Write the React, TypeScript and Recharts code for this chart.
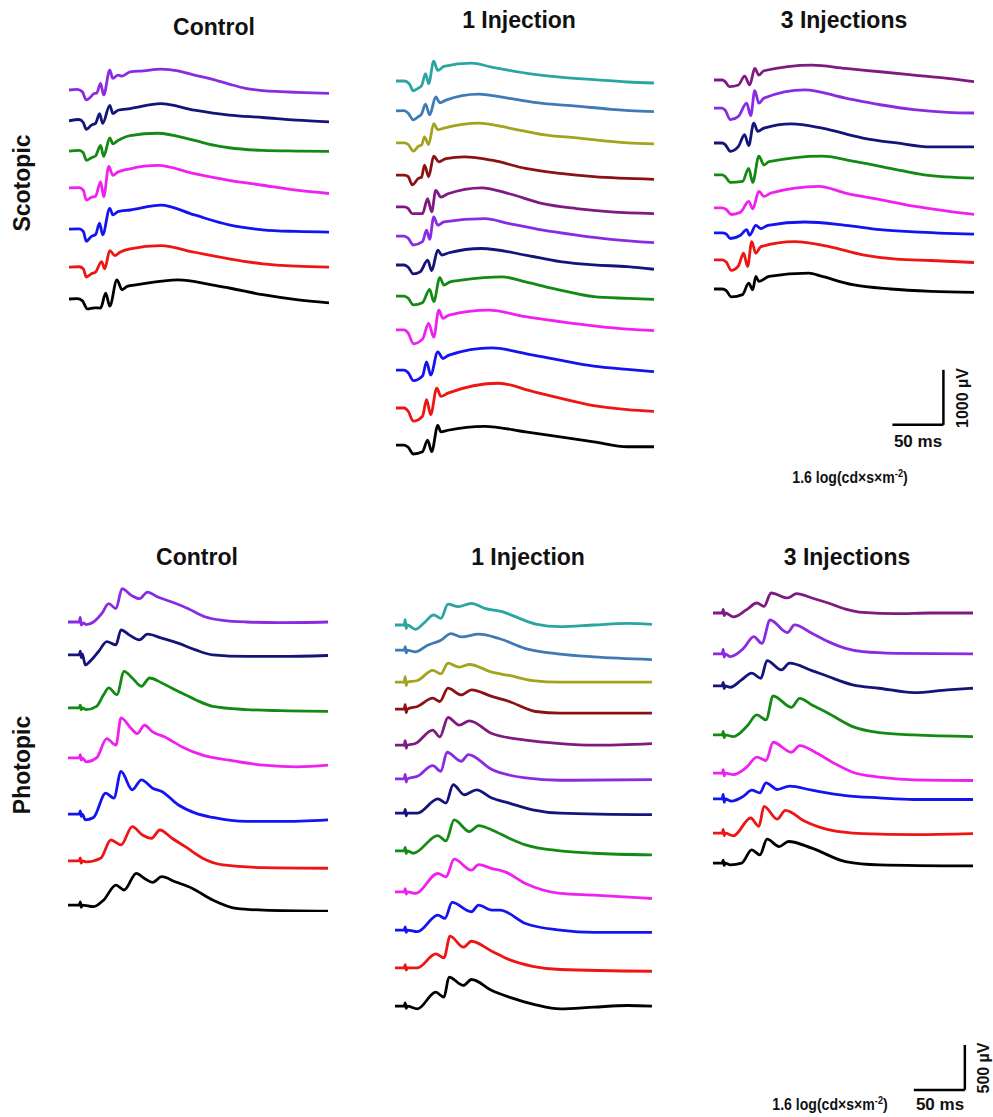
import React from 'react'
import { LineChart, Line, XAxis, YAxis, ReferenceLine } from 'recharts'

type Trace = [number, number][] // [time ms, amplitude µV]

// ---------- Scotopic, Control ----------
const scCtrlPurple: Trace = [[0,0],[8,12],[13,-30],[17,-180],[21,-132],[25,-60],[27,-60],[31,120],[34,-90],[40,360],[43,210],[48,270],[52,252],[60,330],[73,348],[90,378],[107,348],[123,270],[140,198],[157,108],[173,30],[190,-12],[207,-30],[223,-42],[255,-60]]
const scCtrlNavy: Trace = [[0,0],[10,24],[14,-30],[17,-156],[22,-78],[26,-48],[30,132],[33,-48],[40,282],[43,132],[48,192],[60,222],[90,312],[123,192],[157,102],[190,60],[223,12],[255,-18]]
const scCtrlGreen: Trace = [[0,0],[10,12],[14,-30],[17,-168],[22,-120],[26,-90],[31,102],[34,-96],[40,240],[43,132],[48,192],[60,282],[87,324],[123,192],[143,102],[157,60],[190,12],[223,0],[255,-6]]
const scCtrlMagenta: Trace = [[0,0],[10,6],[14,-40],[17,-222],[22,-170],[26,-150],[31,108],[34,-162],[39,390],[43,228],[48,288],[60,348],[87,408],[123,258],[157,138],[190,48],[223,-42],[255,-102]]
const scCtrlBlue: Trace = [[0,0],[10,6],[14,-40],[17,-222],[22,-130],[26,-100],[30,108],[33,-102],[40,378],[43,258],[48,318],[60,348],[90,438],[123,258],[157,78],[190,-12],[223,-42],[255,-54]]
const scCtrlRed: Trace = [[0,0],[10,6],[14,-30],[17,-180],[22,-120],[26,-90],[32,100],[35,-30],[40,300],[45,210],[50,270],[60,330],[90,390],[123,270],[157,150],[190,60],[223,18],[255,0]]
const scCtrlBlack: Trace = [[0,0],[8,6],[13,-30],[18,-180],[25,-160],[31,-165],[36,108],[40,-130],[47,348],[52,168],[57,230],[67,260],[107,348],[140,258],[157,200],[190,78],[223,-12],[255,-72]]
const scCtrlOffsets = [0, -560, -1110, -1780, -2530, -3220, -3800]

// ---------- Scotopic, 1 Injection ----------
const sc1Teal: Trace = [[0,0],[8,0],[13,-50],[17,-180],[21,-138],[25,-90],[29,132],[32,-48],[37,360],[41,192],[47,264],[74,324],[94,252],[127,144],[161,72],[194,24],[227,-18],[253,-36]]
const sc1Steel: Trace = [[0,0],[8,6],[12,-42],[17,-162],[22,-102],[25,-60],[29,126],[33,-72],[39,258],[43,150],[49,198],[81,306],[111,228],[144,138],[177,90],[211,30],[253,-12]]
const sc1Olive: Trace = [[0,0],[8,0],[12,-30],[17,-150],[22,-60],[25,-40],[28,108],[32,-30],[37,348],[41,240],[47,270],[81,360],[111,270],[144,150],[177,90],[227,0],[253,-18]]
const sc1Maroon: Trace = [[0,0],[8,0],[12,-30],[16,-180],[22,-60],[25,-40],[28,180],[32,-30],[37,342],[42,240],[49,300],[67,330],[94,270],[127,120],[161,30],[194,-30],[253,-78]]
const sc1Purple: Trace = [[0,0],[8,0],[12,-30],[16,-120],[26,-120],[31,150],[35,-90],[39,300],[44,180],[51,240],[84,348],[111,240],[144,60],[177,-30],[211,-90],[253,-120]]
const sc1Violet: Trace = [[0,0],[8,0],[12,-40],[17,-162],[26,-102],[30,108],[33,-60],[37,348],[41,198],[47,258],[87,318],[111,228],[144,108],[177,18],[211,-60],[253,-120]]
const sc1Navy: Trace = [[0,0],[8,0],[12,-40],[17,-162],[24,-120],[31,90],[35,-102],[41,270],[45,180],[52,222],[84,300],[127,180],[161,60],[194,0],[227,-30],[253,-78]]
const sc1Green: Trace = [[0,0],[8,0],[12,-40],[17,-162],[26,-120],[33,120],[37,-102],[43,336],[47,198],[53,258],[64,288],[104,348],[127,258],[161,108],[194,-12],[227,-42],[253,-60]]
const sc1Magenta: Trace = [[0,0],[8,0],[12,-60],[17,-252],[26,-168],[32,120],[37,-132],[42,360],[46,210],[52,270],[91,360],[127,240],[161,150],[194,72],[227,12],[253,-12]]
const sc1Blue: Trace = [[0,0],[8,0],[12,-50],[17,-192],[26,-108],[30,150],[34,-90],[41,330],[46,210],[52,270],[94,402],[127,300],[161,180],[194,72],[227,12],[253,-30]]
const sc1Red: Trace = [[0,0],[8,0],[12,-60],[17,-240],[26,-150],[30,150],[34,-120],[40,360],[44,210],[51,270],[101,450],[134,300],[161,180],[194,42],[227,-30],[253,-60]]
const sc1Black: Trace = [[0,0],[8,0],[12,-40],[17,-162],[26,-120],[31,90],[35,-120],[41,360],[44,240],[51,270],[87,342],[127,240],[161,150],[194,60],[227,-30],[253,-30]]
const sc1Offsets = [0, -545, -1125, -1710, -2290, -2820, -3345, -3910, -4525, -5255, -5945, -6620]

// ---------- Scotopic, 3 Injections ----------
const sc3Plum: Trace = [[0,0],[8,0],[11,-30],[15,-120],[24,-90],[30,72],[35,-90],[40,210],[44,90],[49,168],[96,270],[129,210],[163,150],[196,90],[229,30],[255,-30]]
const sc3Violet: Trace = [[0,0],[8,0],[11,-40],[16,-210],[24,-150],[32,90],[36,-138],[40,318],[44,90],[49,180],[89,330],[129,180],[163,60],[196,-30],[229,-78],[255,-90]]
const sc3Navy: Trace = [[0,0],[8,0],[11,-30],[16,-150],[24,-60],[30,150],[34,-48],[39,360],[43,210],[49,270],[76,348],[106,270],[146,90],[179,0],[213,-72],[255,-72]]
const sc3Green: Trace = [[0,0],[8,0],[11,-30],[16,-138],[28,-120],[34,120],[38,-138],[44,342],[49,180],[54,240],[106,342],[139,240],[173,120],[206,0],[255,-60]]
const sc3Magenta: Trace = [[0,0],[8,0],[12,-30],[17,-120],[26,-78],[34,120],[38,-18],[44,300],[49,210],[56,270],[103,390],[129,270],[163,150],[196,30],[229,-60],[255,-120]]
const sc3Blue: Trace = [[0,0],[8,0],[12,-20],[16,-102],[26,-42],[32,60],[35,-42],[41,138],[46,78],[53,138],[89,198],[129,138],[163,60],[196,18],[255,-24]]
const sc3Red: Trace = [[0,0],[8,0],[12,-40],[17,-192],[24,-108],[29,120],[33,-120],[37,330],[41,120],[46,240],[79,330],[113,240],[146,90],[179,12],[213,-12],[255,-48]]
const sc3Black: Trace = [[0,0],[8,0],[12,-30],[17,-144],[28,-102],[34,108],[38,-12],[41,228],[44,138],[54,228],[93,288],[106,228],[136,78],[173,0],[213,-42],[255,-60]]
const sc3Offsets = [0, -510, -1145, -1725, -2325, -2780, -3270, -3800]

// ---------- Photopic, Control ----------
const phCtrlPurple: Trace = [[0,0],[11,0],[12,50],[13,-35],[15,-10],[18,-30],[25,0],[33,92],[40,204],[47,148],[53,370],[62,296],[70,259],[78,333],[88,278],[102,222],[118,148],[135,56],[152,18],[175,0],[208,-7],[255,0]]
const phCtrlNavy: Trace = [[0,0],[11,0],[12,40],[13,-30],[14,10],[17,-111],[22,-67],[30,37],[38,148],[47,111],[52,278],[60,222],[70,167],[78,230],[92,185],[108,130],[125,56],[142,0],[175,-18],[208,-18],[255,-7]]
const phCtrlGreen: Trace = [[0,0],[11,0],[12,30],[13,-20],[14,0],[18,-18],[28,18],[35,148],[40,222],[48,148],[55,407],[63,333],[72,241],[80,333],[92,278],[108,185],[125,92],[142,18],[175,-18],[208,-30],[255,-37]]
const phCtrlMagenta: Trace = [[0,0],[11,0],[12,35],[13,-25],[14,0],[18,-44],[28,0],[38,215],[47,141],[52,444],[62,326],[68,270],[75,363],[83,289],[95,233],[112,122],[132,30],[158,-26],[192,-81],[225,-100],[255,-81]]
const phCtrlBlue: Trace = [[0,0],[11,0],[12,35],[13,-25],[14,0],[17,-63],[25,-37],[37,233],[45,178],[52,474],[63,270],[72,381],[83,289],[92,252],[108,104],[125,11],[142,-37],[175,-81],[208,-81],[255,-63]]
const phCtrlRed: Trace = [[0,0],[11,0],[12,35],[13,-25],[14,0],[18,-10],[32,30],[42,233],[52,178],[63,381],[73,289],[82,252],[90,344],[102,252],[115,159],[132,30],[152,-44],[192,-74],[255,-81]]
const phCtrlBlack: Trace = [[0,0],[11,0],[12,35],[13,-25],[14,0],[25,-18],[35,56],[47,222],[55,167],[67,352],[75,296],[83,252],[92,315],[105,259],[122,185],[142,56],[165,-37],[192,-56],[255,-67]]
const phCtrlOffsets = [0, -365, -955, -1510, -2135, -2655, -3145]

// ---------- Photopic, 1 Injection ----------
const ph1Teal: Trace = [[0,0],[9,0],[10,60],[11,-40],[12,0],[20,-48],[28,18],[38,111],[45,74],[52,233],[62,204],[75,241],[88,185],[105,148],[122,74],[138,11],[162,-18],[195,0],[228,18],[252,7]]
const ph1Steel: Trace = [[0,0],[9,0],[10,40],[11,-30],[12,0],[20,-18],[32,56],[45,111],[55,185],[65,148],[82,178],[102,130],[128,18],[162,-44],[195,-74],[252,-104]]
const ph1Olive: Trace = [[0,0],[9,0],[10,60],[11,-40],[12,0],[22,18],[37,130],[45,92],[52,211],[63,167],[73,196],[95,111],[112,74],[135,18],[162,0],[252,0]]
const ph1Maroon: Trace = [[0,0],[9,0],[10,50],[11,-40],[12,0],[22,30],[37,122],[44,85],[52,233],[65,159],[75,215],[95,141],[112,85],[138,-26],[162,-44],[252,-44]]
const ph1Purple: Trace = [[0,0],[9,0],[10,50],[11,-35],[12,0],[20,18],[37,167],[44,92],[52,307],[63,222],[73,270],[95,130],[128,56],[162,18],[195,0],[252,18]]
const ph1Violet: Trace = [[0,0],[9,0],[10,50],[11,-35],[12,0],[22,30],[37,148],[45,85],[51,296],[65,196],[72,270],[95,104],[128,11],[162,-15],[252,-7]]
const ph1Navy: Trace = [[0,0],[9,0],[10,40],[11,-30],[12,0],[22,0],[42,159],[50,111],[57,315],[68,204],[80,259],[95,167],[112,111],[135,37],[162,0],[252,-18]]
const ph1Green: Trace = [[0,0],[9,0],[10,40],[11,-30],[12,0],[18,-26],[42,170],[50,111],[58,344],[73,215],[82,281],[95,233],[112,141],[128,67],[162,0],[195,-26],[252,-44]]
const ph1Magenta: Trace = [[0,0],[9,0],[10,35],[11,-25],[12,0],[20,-18],[42,204],[50,167],[58,363],[75,241],[82,303],[95,259],[108,222],[128,92],[162,-18],[195,-37],[252,-74]]
const ph1Blue: Trace = [[0,0],[9,0],[10,35],[11,-25],[12,0],[22,-18],[42,167],[49,130],[56,307],[75,204],[82,278],[95,222],[103,222],[128,74],[162,0],[195,-26],[252,-26]]
const ph1Red: Trace = [[0,0],[9,0],[10,35],[11,-25],[12,0],[22,0],[40,155],[48,111],[54,352],[67,230],[75,296],[95,185],[112,92],[135,18],[162,-18],[252,-37]]
const ph1Black: Trace = [[0,0],[9,0],[10,35],[11,-25],[12,0],[22,-30],[40,155],[48,100],[53,322],[67,230],[75,296],[95,174],[112,100],[138,15],[162,-30],[195,-11],[228,7],[252,0]]
const ph1Offsets = [0, -280, -635, -935, -1335, -1710, -2090, -2510, -2965, -3390, -3810, -4235]

// ---------- Photopic, 3 Injections ----------
const ph3Plum: Trace = [[0,0],[9,0],[10,40],[11,-30],[12,0],[20,-44],[33,37],[43,111],[50,74],[57,222],[73,167],[82,215],[97,167],[113,111],[130,44],[147,7],[180,-7],[213,0],[255,0]]
const ph3Violet: Trace = [[0,0],[9,0],[10,50],[11,-35],[12,0],[17,-30],[30,63],[40,192],[48,118],[56,377],[73,237],[80,322],[97,230],[113,137],[130,63],[147,26],[180,7],[255,0]]
const ph3Navy: Trace = [[0,0],[9,0],[10,40],[11,-30],[12,0],[17,-15],[28,67],[38,141],[47,85],[53,281],[67,178],[75,252],[97,170],[113,104],[137,11],[163,-26],[197,-74],[230,-44],[255,-26]]
const ph3Green: Trace = [[0,0],[9,0],[10,40],[11,-30],[12,0],[20,-18],[33,93],[43,222],[52,167],[59,433],[77,307],[85,407],[97,333],[113,241],[137,93],[163,26],[197,0],[255,-18]]
const ph3Magenta: Trace = [[0,0],[9,0],[10,40],[11,-30],[12,0],[20,-15],[33,67],[43,178],[52,141],[59,344],[77,233],[85,307],[103,215],[117,122],[137,11],[163,-44],[197,-74],[255,-81]]
const ph3Blue: Trace = [[0,0],[9,0],[10,50],[11,-40],[12,0],[18,-26],[30,30],[38,96],[46,67],[52,178],[63,104],[75,141],[97,96],[130,37],[163,11],[197,-7],[255,-7]]
const ph3Red: Trace = [[0,0],[9,0],[10,40],[11,-30],[12,0],[20,-30],[37,167],[45,74],[50,296],[63,155],[71,252],[90,130],[113,37],[147,-7],[197,-18],[255,-7]]
const ph3Black: Trace = [[0,0],[9,0],[10,35],[11,-25],[12,0],[17,-18],[28,0],[38,148],[46,93],[53,267],[65,185],[74,241],[97,167],[130,18],[163,-18],[255,-30]]
const ph3Offsets = [0, -455, -810, -1355, -1780, -2065, -2445, -2780]

// colours
const PURPLE = '#8a2be2'
const NAVY = '#14147a'
const GREEN = '#138a13'
const MAGENTA = '#f020f0'
const BLUE = '#1414f0'
const RED = '#ee1515'
const BLACK = '#000000'
const TEAL = '#2aa5a2'
const STEEL = '#3f7ab5'
const OLIVE = '#a3a31e'
const MAROON = '#8b1212'
const PLUM = '#7e1a82'

const ctrlColors = [PURPLE, NAVY, GREEN, MAGENTA, BLUE, RED, BLACK]
const inj1Colors = [TEAL, STEEL, OLIVE, MAROON, PLUM, PURPLE, NAVY, GREEN, MAGENTA, BLUE, RED, BLACK]
const inj3Colors = [PLUM, PURPLE, NAVY, GREEN, MAGENTA, BLUE, RED, BLACK]

const SCOTOPIC_UV_PER_PX = 1000 / 55
const PHOTOPIC_UV_PER_PX = 500 / 45
const T_MAX = 255
const PLOT_W = 260

interface Bar { t: number; v: number; dt: number; dv: number }

interface PanelProps {
  traces: Trace[]
  offsets: number[]
  colors: string[]
  left: number
  base: number
  headroom: number
  height: number
  uvPerPx: number
  bar?: Bar
}

function TracePanel({ traces, offsets, colors, left, base, headroom, height, uvPerPx, bar }: PanelProps) {
  const yMax = headroom * uvPerPx
  const yMin = yMax - height * uvPerPx
  return (
    <div style={{ position: 'absolute', left: left - 2, top: base - headroom }}>
      <LineChart width={PLOT_W + 6} height={height} margin={{ top: 0, right: 4, bottom: 0, left: 2 }}>
        <XAxis hide type="number" dataKey="t" domain={[0, T_MAX]} allowDataOverflow />
        <YAxis hide type="number" domain={[yMin, yMax]} allowDataOverflow />
        {traces.map((tr, i) => (
          <Line
            key={i}
            data={tr.map(([t, v]) => ({ t, v: v + offsets[i] }))}
            dataKey="v"
            type="monotone"
            stroke={colors[i]}
            strokeWidth={2.8}
            strokeLinejoin="round"
            dot={false}
            activeDot={false}
            isAnimationActive={false}
          />
        ))}
        {bar && (
          <ReferenceLine
            segment={[{ x: bar.t - bar.dt, y: bar.v }, { x: bar.t, y: bar.v }]}
            stroke="#000"
            strokeWidth={2.5}
            ifOverflow="visible"
          />
        )}
        {bar && (
          <ReferenceLine
            segment={[{ x: bar.t, y: bar.v }, { x: bar.t, y: bar.v + bar.dv }]}
            stroke="#000"
            strokeWidth={2.5}
            ifOverflow="visible"
          />
        )}
      </LineChart>
    </div>
  )
}

const font = '"Liberation Sans", Arial, sans-serif'

function Label({ x, y, text, size = 23, rotate = false, squeeze = 1 }: { x: number; y: number; text: React.ReactNode; size?: number; rotate?: boolean; squeeze?: number }) {
  return (
    <div
      style={{
        position: 'absolute',
        left: x,
        top: y,
        transform: `translate(-50%, -50%)${rotate ? ' rotate(-90deg)' : ''}${squeeze !== 1 ? ` scaleX(${squeeze})` : ''}`,
        fontFamily: font,
        fontWeight: 700,
        fontSize: size,
        color: '#111',
        whiteSpace: 'nowrap',
        lineHeight: 1,
      }}
    >
      {text}
    </div>
  )
}

const unitText = (
  <span>
    1.6 log(cd×s×m<sup style={{ fontSize: '0.65em' }}>-2</sup>)
  </span>
)

export default function App() {
  return (
    <div style={{ position: 'absolute', left: 0, top: 0, width: 993, height: 1117, background: '#fff', overflow: 'hidden' }}>
      <Label x={214} y={27} text="Control" />
      <Label x={519} y={20} text="1 Injection" />
      <Label x={844} y={20} text="3 Injections" />
      <Label x={197} y={557} text="Control" />
      <Label x={528} y={557} text="1 Injection" />
      <Label x={847} y={557} text="3 Injections" />
      <Label x={22} y={183} text="Scotopic" rotate />
      <Label x={22} y={765} text="Photopic" rotate />

      <TracePanel
        traces={[scCtrlPurple, scCtrlNavy, scCtrlGreen, scCtrlMagenta, scCtrlBlue, scCtrlRed, scCtrlBlack]}
        offsets={scCtrlOffsets}
        colors={ctrlColors}
        left={69}
        base={90}
        headroom={40}
        height={270}
        uvPerPx={SCOTOPIC_UV_PER_PX}
      />
      <TracePanel
        traces={[sc1Teal, sc1Steel, sc1Olive, sc1Maroon, sc1Purple, sc1Violet, sc1Navy, sc1Green, sc1Magenta, sc1Blue, sc1Red, sc1Black]}
        offsets={sc1Offsets}
        colors={inj1Colors}
        left={396}
        base={81}
        headroom={40}
        height={420}
        uvPerPx={SCOTOPIC_UV_PER_PX}
      />
      <TracePanel
        traces={[sc3Plum, sc3Violet, sc3Navy, sc3Green, sc3Magenta, sc3Blue, sc3Red, sc3Black]}
        offsets={sc3Offsets}
        colors={inj3Colors}
        left={714}
        base={80}
        headroom={40}
        height={395}
        uvPerPx={SCOTOPIC_UV_PER_PX}
        bar={{ t: 225, v: -6270, dt: 50, dv: 1000 }}
      />

      <TracePanel
        traces={[phCtrlPurple, phCtrlNavy, phCtrlGreen, phCtrlMagenta, phCtrlBlue, phCtrlRed, phCtrlBlack]}
        offsets={phCtrlOffsets}
        colors={ctrlColors}
        left={68}
        base={622}
        headroom={55}
        height={345}
        uvPerPx={PHOTOPIC_UV_PER_PX}
      />
      <TracePanel
        traces={[ph1Teal, ph1Steel, ph1Olive, ph1Maroon, ph1Purple, ph1Violet, ph1Navy, ph1Green, ph1Magenta, ph1Blue, ph1Red, ph1Black]}
        offsets={ph1Offsets}
        colors={inj1Colors}
        left={395}
        base={625}
        headroom={55}
        height={445}
        uvPerPx={PHOTOPIC_UV_PER_PX}
      />
      <TracePanel
        traces={[ph3Plum, ph3Violet, ph3Navy, ph3Green, ph3Magenta, ph3Blue, ph3Red, ph3Black]}
        offsets={ph3Offsets}
        colors={inj3Colors}
        left={713}
        base={613}
        headroom={55}
        height={540}
        uvPerPx={PHOTOPIC_UV_PER_PX}
        bar={{ t: 247, v: -5300, dt: 50, dv: 500 }}
      />

      <Label x={918} y={441} text="50 ms" size={17} />
      <Label x={963} y={398} text="1000 µV" size={16} rotate />
      <Label x={850} y={478} text={unitText} size={16} squeeze={0.88} />

      <Label x={940} y={1104} text="50 ms" size={17} />
      <Label x={984} y={1068} text="500 µV" size={16} rotate />
      <Label x={830} y={1105} text={unitText} size={16} squeeze={0.88} />
    </div>
  )
}
